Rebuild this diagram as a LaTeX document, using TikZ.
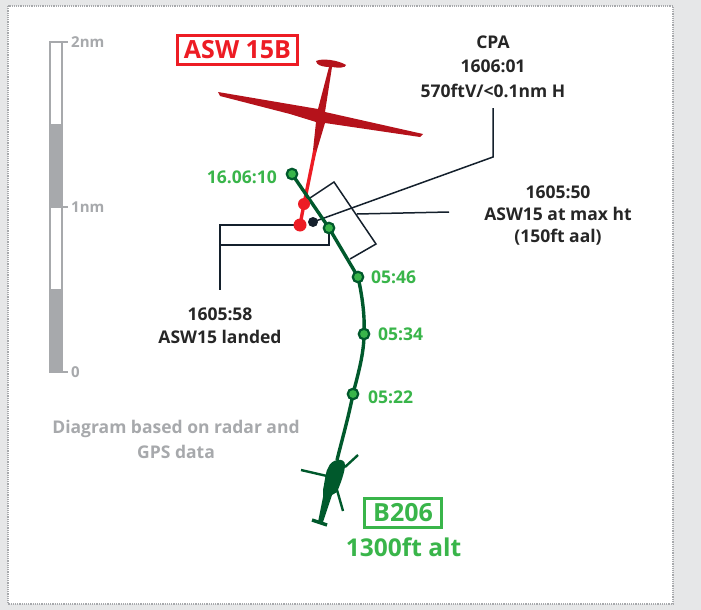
\documentclass[tikz,border=0pt]{standalone}
\usepackage{fontspec}
\setmainfont{Open Sans}
\usepackage{tikz}
\usetikzlibrary{calc}
\definecolor{panelgrey}{HTML}{E6E7E8}
\definecolor{scalegrey}{HTML}{A7A9AC}
\definecolor{trackgreen}{HTML}{00592C}
\definecolor{markgreen}{HTML}{39B54A}
\definecolor{gliderred}{HTML}{B5121B}
\definecolor{markred}{HTML}{ED1C24}
\definecolor{inkblack}{HTML}{14202C}
\pgfdeclarelayer{under}
\pgfsetlayers{under,main}
\tikzset{
	txt/.style={font=\fontsize{17.5}{24.5}\selectfont\bfseries, align=center, text=black!85, inner sep=0pt},
	timelabel/.style={font=\fontsize{17.5}{24}\selectfont\bfseries, text=markgreen, inner sep=0pt},
	scalelabel/.style={font=\fontsize{15}{16}\selectfont\bfseries, text=scalegrey, inner sep=0pt, anchor=west},
	greendot/.style={circle, draw=trackgreen, fill=markgreen, line width=2.2pt, minimum size=10.5pt, inner sep=0pt},
	reddot/.style={circle, fill=markred, minimum size=13pt, inner sep=0pt},
	leader/.style={draw=inkblack, line width=1.5pt},
	track/.style={trackgreen, line width=3.4pt},
	redtrack/.style={markred, line width=3.4pt},
}
\begin{document}
\begin{tikzpicture}[x=1pt, y=-1pt]
	\useasboundingbox (0,0) rectangle (701,610);
	\node[reddot] (landed) at (300,225) {};
	\node[reddot, minimum size=12pt] (redB) at (304,204) {};
	\node[circle, fill=inkblack, minimum size=10pt, inner sep=0pt] (cpadot) at (313,222) {};
	\node[greendot] (pA) at (292,174) {};
	\node[greendot] (pB) at (329,228) {};
	\node[greendot] (pC) at (358,277) {};
	\node[greendot] (pD) at (364,334) {};
	\node[greendot] (pE) at (353,394) {};
	
	\begin{pgfonlayer}{under}
	\fill[panelgrey] (0,0) rectangle (701,610);
	\fill[white] (8,6) rectangle (673,604);
	\draw[scalegrey, line width=1.2pt, densely dotted] (8,6) rectangle (673,604);
	
	\fill[scalegrey] (50,124) rectangle (62,207);
	\fill[scalegrey] (50,289) rectangle (62,372);
	\draw[scalegrey, line width=1.5pt] (50,42) rectangle (62,372);
	\coordinate (tickA) at (50,42);
	\coordinate (tickB) at (50,207);
	\coordinate (tickC) at (50,372);
	\draw[scalegrey, line width=1.5pt] (tickA) -- ++(18,0);
	\draw[scalegrey, line width=1.5pt] (tickB) -- ++(18,0);
	\draw[scalegrey, line width=1.5pt] (tickC) -- ++(18,0);
	
	% bracket and leaders
	\coordinate (cornerA) at (310,198);
	\coordinate (cornerB) at (334,182);
	\coordinate (cornerC) at (376,244);
	\coordinate (cornerD) at (350,259);
	\draw[leader] (cornerA) -- (cornerB) -- (cornerC) -- (cornerD);
	\coordinate (cpaA) at (493,157);
	\coordinate (cpaB) at (493,108);
	\draw[leader] (cpadot.center) -- (cpaA) -- (cpaB);
	\coordinate (maxA) at (357,214);
	\coordinate (maxB) at (449,212);
	\draw[leader] (maxA) -- (maxB);
	\coordinate (landA) at (220,225);
	\coordinate (landB) at (220,290);
	\coordinate (landC) at (220,245);
	\coordinate (landD) at (329,245);
	\draw[leader] (landed.center) -- (landA) -- (landB);
	\draw[leader] (landC) -- (landD) -- (pB.center);
	
	% glider
	\coordinate (gliderend) at (315,150);
	\fill[gliderred] (218,92) -- (318,109) -- (329,67) -- (327,67) .. controls (320,66) and (317,65) .. (316,61)
		.. controls (322,58) and (338,60) .. (346,65) .. controls (346,68) and (338,68) .. (332,67)
		-- (325,112) -- (423,134) -- (420,137) -- (325,123) -- (314,160) -- (312,160) -- (316,122)
		-- (290,114) -- (220,96) -- cycle;
	\draw[redtrack] (gliderend) -- (redB.center);
	\draw[redtrack] (redB.center) -- (landed.center);
	
	% helicopter
	\coordinate (rotorhead) at (337,460);
	\fill[trackgreen] (337,460) .. controls (342,459) and (345,461) .. (345,465) .. controls (345,472) and (340,485) .. (337,492)
		-- (332,495) -- (323,522) -- (318,522) -- (323,497) -- (323,490) .. controls (325,480) and (326,470) .. (328,468)
		.. controls (330,463) and (333,461) .. (337,460) -- cycle;
	\draw[trackgreen, line width=3.4pt] (312,520) -- (327,525);
	\draw[trackgreen, line width=2.4pt] (301,470) -- (327,476);
	\draw[trackgreen, line width=2.4pt] (358,455) -- (345,467);
	\draw[trackgreen, line width=2.4pt] (337,490) -- (343,511);
	
	% tracks
	\draw[track] (pA.center) -- (pB.center) -- (pC.center);
	\draw[track] (pC.center) .. controls (362,295) and (365,315) .. (pD.center);
	\draw[track] (pD.center) .. controls (364,354) and (358,374) .. (pE.center);
	\draw[track] (pE.center) .. controls (349,415) and (342,440) .. (rotorhead);
	\end{pgfonlayer}
	
	% labels
	\node[scalelabel] (twonm) at (71,42) {2nm};
	\node[scalelabel] (onenm) at (71,207) {1nm};
	\node[scalelabel] (zeronm) at (71,372) {0};
	\node[txt, text=scalegrey] (source) at (176,439.5) {Diagram based on radar and\\GPS data};
	\node[draw=markred, line width=2.6pt, text=markred, font=\fontsize{25}{26}\selectfont\bfseries, minimum width=120pt, minimum height=29pt, inner sep=0pt] (aswbox) at (237.5,50) {ASW 15B};
	\node[draw=markgreen, line width=2.6pt, text=markgreen, font=\fontsize{25}{26}\selectfont\bfseries, minimum width=77pt, minimum height=29pt, inner sep=0pt] (bellbox) at (403,513) {B206};
	\node[text=markgreen, font=\fontsize{24.5}{26}\selectfont\bfseries, inner sep=0pt] (altlabel) at (403.5,547) {1300ft alt};
	\node[txt] (cpalabel) at (493,66.5) {CPA\\1606:01\\570ftV/<0.1nm H};
	\node[txt, font=\fontsize{17.5}{22}\selectfont\bfseries] (maxlabel) at (558,216) {1605:50\\ASW15 at max ht\\(150ft aal)};
	\node[txt, font=\fontsize{17.5}{22.5}\selectfont\bfseries] (landlabel) at (220,325.5) {1605:58\\ASW15 landed};
	\node[timelabel, anchor=east] (tA) at (277,177) {16.06:10};
	\node[timelabel, anchor=west] (tC) at (371,277) {05:46};
	\node[timelabel, anchor=west] (tD) at (378,334) {05:34};
	\node[timelabel, anchor=west] (tE) at (368,397) {05:22};
\end{tikzpicture}
\end{document}
